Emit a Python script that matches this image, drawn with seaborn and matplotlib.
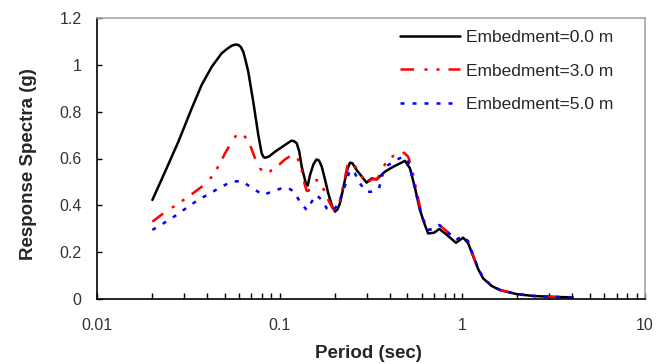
import numpy as np
import pandas as pd
import matplotlib
matplotlib.use("Agg")
import matplotlib.pyplot as plt
import seaborn as sns
from matplotlib.ticker import FixedLocator, LogLocator, NullFormatter

# ---------------- data ----------------
labels = ["Embedment=0.0 m", "Embedment=3.0 m", "Embedment=5.0 m"]

x_e0 = [0.0201, 0.0236, 0.0279, 0.033, 0.0374, 0.0425, 0.0481, 0.0515, 0.0547, 0.0575,
        0.0594, 0.0612, 0.0632, 0.065, 0.0673, 0.0717, 0.0764, 0.0797, 0.0815, 0.0831,
        0.0873, 0.0943, 0.107, 0.116, 0.120, 0.124, 0.128, 0.132, 0.139, 0.1425,
        0.1465, 0.153, 0.159, 0.164, 0.170, 0.1765, 0.1845, 0.194, 0.201, 0.207,
        0.214, 0.2277, 0.235, 0.2426, 0.25, 0.2637, 0.299, 0.319, 0.34, 0.377,
        0.419, 0.455, 0.485, 0.517, 0.551, 0.586, 0.624, 0.65, 0.70, 0.748,
        0.82, 0.923, 1.01, 1.077, 1.148, 1.222, 1.30, 1.445, 1.607, 1.98,
        2.44, 3.15, 4.02]
y_e0 = [0.423, 0.544, 0.672, 0.814, 0.914, 0.992, 1.049, 1.068, 1.082, 1.087,
        1.085, 1.077, 1.056, 1.02, 0.971, 0.842, 0.70, 0.622, 0.607, 0.603,
        0.608, 0.629, 0.658, 0.676, 0.674, 0.665, 0.63, 0.565, 0.495, 0.484,
        0.529, 0.575, 0.596, 0.592, 0.565, 0.515, 0.451, 0.395, 0.373, 0.382,
        0.409, 0.508, 0.555, 0.582, 0.58, 0.551, 0.497, 0.515, 0.511, 0.544,
        0.565, 0.579, 0.59, 0.558, 0.473, 0.38, 0.316, 0.28, 0.283, 0.299,
        0.275, 0.24, 0.262, 0.238, 0.181, 0.127, 0.088, 0.056, 0.038, 0.021,
        0.013, 0.009, 0.007]

x_e3 = [0.0201, 0.0231, 0.0262, 0.0303, 0.0344, 0.039, 0.0433, 0.0466, 0.0502, 0.055,
        0.058, 0.0606, 0.0628, 0.0646, 0.0688, 0.0733, 0.078, 0.0831, 0.088, 0.0943,
        0.107, 0.1186, 0.1254, 0.132, 0.137, 0.1406, 0.144, 0.1496, 0.154, 0.159,
        0.164, 0.17, 0.1845, 0.194, 0.201, 0.208, 0.214, 0.2255, 0.235, 0.2426,
        0.25, 0.2637, 0.299, 0.319, 0.34, 0.361, 0.385, 0.419, 0.455, 0.479,
        0.505, 0.527, 0.56, 0.597, 0.637, 0.65, 0.70, 0.748, 0.82, 0.923,
        1.01, 1.077, 1.148, 1.222, 1.30, 1.445, 1.607, 1.98, 2.44, 3.15, 4.02]
y_e3 = [0.33, 0.366, 0.394, 0.427, 0.458, 0.49, 0.529, 0.572, 0.622, 0.675,
        0.700, 0.706, 0.703, 0.693, 0.658, 0.601, 0.558, 0.537, 0.544, 0.558,
        0.596, 0.619, 0.601, 0.551, 0.49, 0.462, 0.462, 0.487, 0.502, 0.508,
        0.503, 0.487, 0.423, 0.39, 0.377, 0.392, 0.423, 0.501, 0.57, 0.586,
        0.582, 0.558, 0.494, 0.511, 0.511, 0.544, 0.59, 0.611, 0.615, 0.625,
        0.608, 0.565, 0.465, 0.366, 0.306, 0.295, 0.30, 0.316, 0.29, 0.252,
        0.269, 0.245, 0.185, 0.13, 0.09, 0.057, 0.039, 0.021, 0.013, 0.009, 0.007]

x_e5 = [0.0201, 0.0231, 0.0273, 0.031, 0.0358, 0.0415, 0.0481, 0.0547, 0.062, 0.0703,
        0.0813, 0.0902, 0.1025, 0.111, 0.120, 0.129, 0.1406, 0.1496, 0.159, 0.17,
        0.181, 0.197, 0.21, 0.2255, 0.2426, 0.258, 0.2744, 0.299, 0.325, 0.35,
        0.368, 0.393, 0.436, 0.474, 0.505, 0.537, 0.572, 0.61, 0.65, 0.70,
        0.748, 0.82, 0.923, 1.01, 1.077, 1.148, 1.222, 1.30, 1.445, 1.607,
        1.98, 2.44, 3.15, 4.02]
y_e5 = [0.295, 0.323, 0.359, 0.39, 0.423, 0.451, 0.48, 0.501, 0.504, 0.475,
        0.444, 0.458, 0.473, 0.475, 0.458, 0.415, 0.38, 0.415, 0.444, 0.423,
        0.387, 0.377, 0.409, 0.473, 0.551, 0.537, 0.494, 0.458, 0.458, 0.473,
        0.537, 0.572, 0.594, 0.608, 0.586, 0.508, 0.415, 0.337, 0.295, 0.30,
        0.316, 0.29, 0.252, 0.269, 0.245, 0.185, 0.13, 0.09, 0.057, 0.039,
        0.021, 0.013, 0.009, 0.007]

y_ticks = [0, 0.2, 0.4, 0.6, 0.8, 1.0, 1.2]
y_ticklabels = ["0", "0.2", "0.4", "0.6", "0.8", "1", "1.2"]
x_ticks = [0.01, 0.1, 1, 10]
x_ticklabels = ["0.01", "0.1", "1", "10"]

# ---------------- style ----------------
sns.set_theme(style="white")
plt.rcParams["font.family"] = ["Liberation Sans", "DejaVu Sans"]

fig = plt.figure(figsize=(6.65, 3.64), dpi=100)
ax = fig.add_axes([97 / 665, 1 - 299 / 364, (645 - 97) / 665, (299 - 18) / 364])

series = [
    (x_e0, y_e0, labels[0], "#000000", None),
    (x_e3, y_e3, labels[1], "#ff0000", (5.4, 4.2, 1.2, 3.6, 1.2, 3.6)),
    (x_e5, y_e5, labels[2], "#0000ff", (1.6, 3.2)),
]
for xs, ys, lab, col, dash in series:
    df = pd.DataFrame({"T": xs, "Sa": ys})
    sns.lineplot(data=df, x="T", y="Sa", ax=ax, color=col, linewidth=1.8,
                 label=lab, estimator=None, sort=False)
    ln = ax.lines[-1]
    ln.set_solid_joinstyle("round")
    ln.set_dash_joinstyle("round")
    if dash is not None:
        ln.set_dashes(dash)

ax.set_xscale("log")
ax.set_xlim(0.01, 10)
ax.set_ylim(0, 1.2)

ax.xaxis.set_major_locator(FixedLocator(x_ticks))
ax.set_xticklabels(x_ticklabels)
ax.xaxis.set_minor_locator(LogLocator(base=10, subs=np.arange(2, 10)))
ax.xaxis.set_minor_formatter(NullFormatter())
ax.set_yticks(y_ticks)
ax.set_yticklabels(y_ticklabels)

ax.tick_params(axis="x", which="major", direction="in", length=4, width=1,
               color="#000000", pad=14, labelsize=11.5, labelcolor="#333333",
               bottom=True)
ax.tick_params(axis="x", which="minor", direction="in", length=4, width=1,
               color="#000000", bottom=True)
ax.tick_params(axis="y", which="major", direction="in", length=3.5, width=1,
               color="#000000", pad=11, labelsize=11.5, labelcolor="#333333",
               left=True)

for side in ["left", "bottom"]:
    ax.spines[side].set_color("#000000")
    ax.spines[side].set_linewidth(1.2)
for side in ["top", "right"]:
    ax.spines[side].set_color("#a6a6a6")
    ax.spines[side].set_linewidth(1.2)

ax.set_xlabel("Period (sec)", fontsize=13.5, fontweight="bold", color="#262626", va="center")
ax.set_ylabel("Response Spectra (g)", fontsize=13.5, fontweight="bold", color="#262626", va="center")
ax.xaxis.set_label_coords(0.496, (299 - 353) / 281)
ax.yaxis.set_label_coords((29 - 97) / 548, 0.48)

leg = ax.legend(loc="upper left", bbox_to_anchor=((400 - 97) / 548, (299 - 30) / 281),
                frameon=False, fontsize=12.5, handlelength=3.45, handletextpad=0.35,
                labelspacing=1.05, borderpad=0, borderaxespad=0)
for t in leg.get_texts():
    t.set_color("#262626")

fig.savefig("out.png", dpi=100)
